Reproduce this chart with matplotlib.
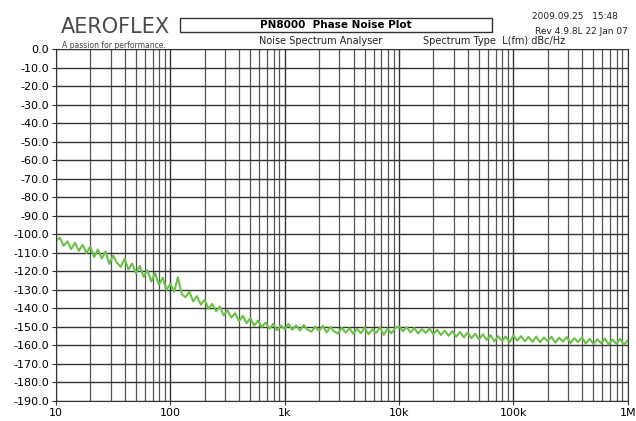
import numpy as np
from matplotlib import pyplot as plt
from matplotlib.patches import Rectangle
from matplotlib.ticker import FixedLocator, NullFormatter

# Phase noise trace L(fm) in dBc/Hz, 30 points per decade from 10 Hz to 1 MHz
livelli = [
    -103.5, -101.8, -106.2, -103.8, -108.0, -104.6, -108.9, -105.7, -110.2, -106.6,
    -112.3, -108.2, -113.1, -109.4, -116.0, -111.5, -115.4, -117.6, -113.2, -119.0,
    -115.8, -121.2, -117.1, -123.0, -119.4, -125.5, -121.0, -127.2, -123.5, -130.0,
    -126.8, -131.0, -123.2, -132.3, -134.0, -131.0, -136.2, -133.4, -138.0, -135.3,
    -140.2, -137.6, -141.5, -139.0, -143.8, -141.0, -145.0, -142.6, -146.8, -144.0,
    -148.0, -145.3, -149.3, -146.6, -150.1, -147.6, -151.0, -148.4, -151.8, -149.2,
    -151.2, -148.4, -151.5, -149.2, -152.0, -149.0, -151.5, -152.6, -149.8, -152.1,
    -149.4, -153.0, -150.1, -152.5, -153.6, -150.4, -153.1, -150.7, -153.8, -151.0,
    -153.4, -150.3, -154.0, -151.3, -153.2, -150.2, -154.3, -150.9, -153.5, -150.5,
    -149.8, -152.3, -150.1, -153.0, -150.6, -153.6, -151.2, -153.2, -150.8, -154.0,
    -151.5, -154.4, -152.0, -154.8, -152.3, -155.3, -152.7, -155.7, -153.1, -156.1,
    -153.7, -156.7, -154.0, -157.0, -154.5, -157.7, -155.0, -157.5, -155.2, -158.3,
    -154.7, -157.4, -155.0, -157.8, -155.4, -158.1, -155.2, -158.3, -155.7, -157.7,
    -155.3, -158.5, -155.8, -157.9, -155.5, -158.7, -156.1, -158.2, -155.6, -159.0,
    -156.4, -159.3, -156.7, -158.8, -156.3, -159.5, -156.8, -159.1, -156.5, -159.6,
    -157.2,
]
frequenze = np.geomspace(10, 1e6, len(livelli))

tick_x = [10, 100, 1e3, 1e4, 1e5, 1e6]
etichette_x = ["10", "100", "1k", "10k", "100k", "1M"]
tick_y = list(range(0, -200, -10))
etichette_y = [f"{v:.1f}" for v in tick_y]

fig = plt.figure(figsize=(6.36, 4.21), dpi=100)
ax = fig.add_axes([0.088, 0.0475, 0.899, 0.836])

ax.set_xscale("log")
ax.set_xlim(10, 1e6)
ax.set_ylim(-190, 0)

minori = [m * 10 ** d for d in range(1, 6) for m in range(2, 10)]
ax.xaxis.set_major_locator(FixedLocator(tick_x))
ax.xaxis.set_minor_locator(FixedLocator(minori))
ax.xaxis.set_minor_formatter(NullFormatter())
ax.set_xticks(tick_x, etichette_x)
ax.set_yticks(tick_y, etichette_y)

ax.grid(True, which="major", color="#333333", linewidth=1.0)
ax.grid(True, which="minor", axis="x", color="#555555", linewidth=0.9)
ax.tick_params(axis="both", which="major", labelsize=8, length=3, color="#333333", pad=2)
ax.tick_params(axis="x", which="minor", length=0)
for s in ax.spines.values():
    s.set_color("#333333")

ax.plot(frequenze, livelli, color="#6cc04a", linewidth=1.5)

# intestazione
fig.text(0.095, 0.922, "AEROFLEX", fontsize=15, color="#4a4a4a")
fig.text(0.097, 0.887, "A passion for performance.", fontsize=5.5, color="#444444")
fig.patches.append(Rectangle((0.283, 0.924), 0.491, 0.033, transform=fig.transFigure,
                             facecolor="white", edgecolor="#333333", linewidth=1.0))
fig.text(0.528, 0.940, "PN8000  Phase Noise Plot", fontsize=7.5, fontweight="bold",
         ha="center", va="center")
fig.text(0.504, 0.896, "Noise Spectrum Analyser", fontsize=7, ha="center", color="#222222")
fig.text(0.665, 0.896, "Spectrum Type  L(fm) dBc/Hz", fontsize=7, ha="left", color="#222222")
fig.text(0.972, 0.96, "2009.09.25   15:48", fontsize=6.5, ha="right", va="center", color="#222222")
fig.text(0.987, 0.926, "Rev 4.9.8L 22 Jan 07", fontsize=6.5, ha="right", va="center", color="#222222")

plt.savefig("out.png", dpi=100)
